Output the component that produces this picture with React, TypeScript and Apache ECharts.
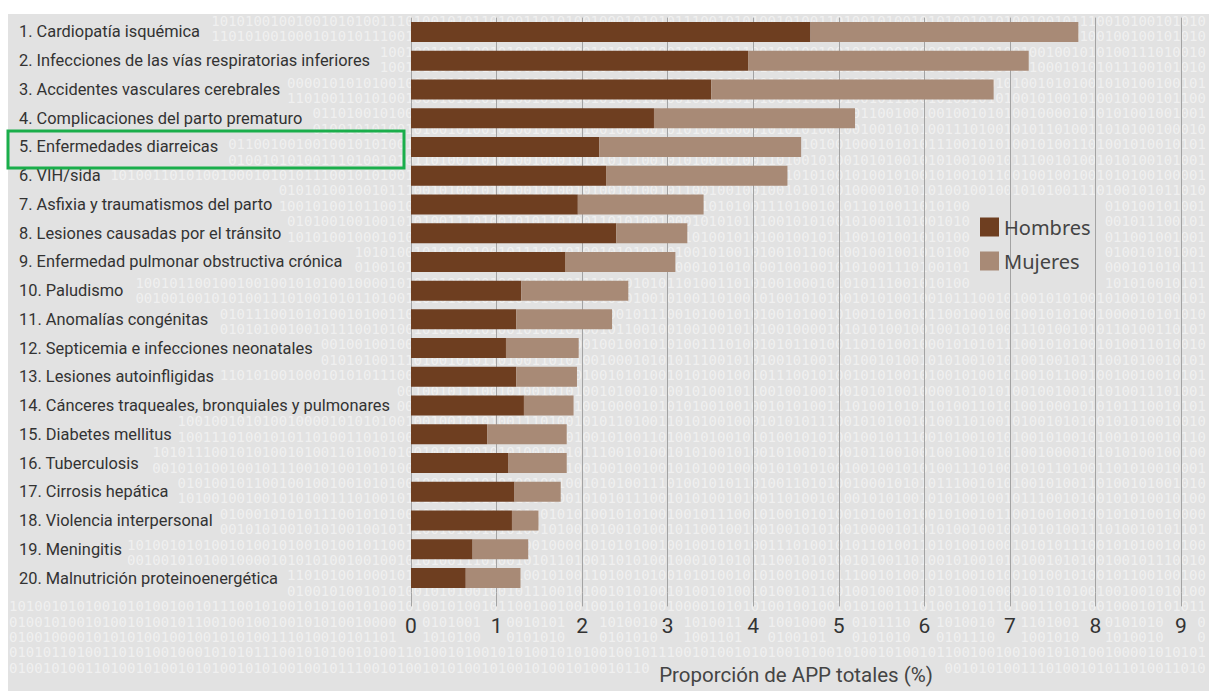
import React, { useEffect, useRef } from "react";
import * as echarts from "echarts";

const categories = [
  "1. Cardiopatía isquémica",
  "2. Infecciones de las vías respiratorias inferiores",
  "3. Accidentes vasculares cerebrales",
  "4. Complicaciones del parto prematuro",
  "5. Enfermedades diarreicas",
  "6. VIH/sida",
  "7. Asfixia y traumatismos del parto",
  "8. Lesiones causadas por el tránsito",
  "9. Enfermedad pulmonar obstructiva crónica",
  "10. Paludismo",
  "11. Anomalías congénitas",
  "12. Septicemia e infecciones neonatales",
  "13. Lesiones autoinfligidas",
  "14. Cánceres traqueales, bronquiales y pulmonares",
  "15. Diabetes mellitus",
  "16. Tuberculosis",
  "17. Cirrosis hepática",
  "18. Violencia interpersonal",
  "19. Meningitis",
  "20. Malnutrición proteinoenergética",
];

const hombres = [4.67, 3.94, 3.51, 2.84, 2.2, 2.28, 1.95, 2.4, 1.8, 1.29, 1.23, 1.11, 1.23, 1.32, 0.89, 1.14, 1.21, 1.18, 0.72, 0.64];
const mujeres = [3.13, 3.28, 3.3, 2.35, 2.36, 2.12, 1.47, 0.83, 1.29, 1.25, 1.12, 0.85, 0.71, 0.58, 0.93, 0.68, 0.54, 0.31, 0.65, 0.64];

const seriesNames = ["Hombres", "Mujeres"];
const xTicks = { min: 0, max: 9, interval: 1 };
const axisTitle = "Proporción de APP totales (%)";

const binarySeed =
  "0100100100101010010000101010100100100101010011101001010110100110101001000101010111001010100101001101001010010101001010100100101110010100101010010100101001010010110";

const FONT = "Roboto, 'Liberation Sans', sans-serif";

export default function App() {
  const ref = useRef<HTMLDivElement>(null);
  useEffect(() => {
    document.body.style.margin = "0";
    const chart = echarts.init(ref.current!, null, { renderer: "svg" });
    const W = 1209;
    const H = 691;

    const gridLeft = 411;
    const gridRight = 28;
    const gridTop = 17.6;
    const gridBottom = 98.6;
    const plotW = W - gridLeft - gridRight;
    const band = (H - gridTop - gridBottom) / categories.length;

    // measure label widths to keep the decorative binary pattern clear of real texts
    const cv = document.createElement("canvas");
    const ctx = cv.getContext("2d")!;
    const measure = (t: string, f: string) => {
      ctx.font = f;
      return ctx.measureText(t).width;
    };
    const boxes: { x0: number; x1: number; y0: number; y1: number }[] = [];
    categories.forEach((c, i) => {
      const cy = gridTop + (i + 0.5) * band;
      boxes.push({ x0: 15, x1: 19 + measure(c, "16.4px Roboto") + 5, y0: cy - 10, y1: cy + 10 });
    });
    const nTicks = (xTicks.max - xTicks.min) / xTicks.interval;
    for (let k = 0; k <= nTicks; k++) {
      const cx = gridLeft + (k / nTicks) * plotW;
      boxes.push({ x0: cx - 9, x1: cx + 9, y0: 615, y1: 640 });
    }
    const tw = measure(axisTitle, "20.5px Roboto");
    const tcx = gridLeft + plotW / 2;
    boxes.push({ x0: tcx - tw / 2 - 6, x1: tcx + tw / 2 + 6, y0: 662, y1: 689 });
    boxes.push({ x0: 972, x1: 1102, y0: 208, y1: 284 });

    const bgRows: any[] = [];
    const rowH = 15.4;
    const charW = 0.602 * 14;
    const nChars = Math.floor((W - 10) / charW);
    const tripled = binarySeed + binarySeed + binarySeed;
    for (let i = 0; 14 + (i + 1) * rowH <= H; i++) {
      const off = (i * 37) % binarySeed.length;
      const s = tripled.slice(off, off + nChars);
      const ry0 = 14 + i * rowH;
      const ry1 = ry0 + 16;
      const blocked = boxes
        .filter((b) => b.y0 < ry1 - 3 && b.y1 > ry0 + 3)
        .sort((a, b) => a.x0 - b.x0);
      const segs: [number, number][] = [];
      let cur = 9;
      for (const b of blocked) {
        if (b.x0 > cur) segs.push([cur, b.x0]);
        cur = Math.max(cur, b.x1);
      }
      if (cur < 9 + nChars * charW) segs.push([cur, 9 + nChars * charW]);
      for (const [a, b] of segs) {
        const c0 = Math.ceil((a - 9) / charW);
        const c1 = Math.floor((b - 9) / charW);
        if (c1 - c0 < 1) continue;
        bgRows.push({
          type: "text",
          x: 9 + c0 * charW,
          y: ry0,
          silent: true,
          z: -99,
          style: {
            text: s.slice(c0, c1),
            fill: "rgba(255,255,255,0.5)",
            font: "14px 'DejaVu Sans Mono', monospace",
            textVerticalAlign: "top",
          },
        });
      }
    }
    chart.setOption({
      animation: false,
      backgroundColor: "#ffffff",
      graphic: [
        {
          type: "group",
          silent: true,
          z: -100,
          children: [
            { type: "rect", z: -100, shape: { x: 8, y: 14, width: W - 8, height: H - 14 }, style: { fill: "#e2e2e2" } },
            { type: "group", z: -99, children: bgRows },
          ],
        },
        {
          type: "rect",
          z: 100,
          silent: true,
          shape: { x: 8, y: 131, width: 396, height: 37 },
          style: { fill: "none", stroke: "#1aae4b", lineWidth: 3 },
        },
      ],
      legend: {
        data: seriesNames,
        orient: "vertical",
        left: 975,
        top: 212,
        itemWidth: 19,
        itemHeight: 19,
        itemGap: 14,
        icon: "rect",
        textStyle: { fontSize: 20, fontFamily: "'Noto Sans', sans-serif", color: "#444" },
      },
      grid: { left: gridLeft, right: gridRight, top: gridTop, bottom: gridBottom, containLabel: false },
      xAxis: {
        type: "value",
        min: xTicks.min,
        max: xTicks.max,
        interval: xTicks.interval,
        axisLine: { show: false },
        axisTick: { show: true, length: 14, lineStyle: { color: "#a3a3a3", width: 1 } },
        splitLine: { show: true, lineStyle: { color: "#a3a3a3", width: 1 } },
        axisLabel: {
          margin: 23,
          fontSize: 21,
          color: "#333",
          fontFamily: FONT,
        },
        name: axisTitle,
        nameLocation: "middle",
        nameGap: 72,
        nameTextStyle: {
          fontSize: 20.5,
          color: "#444",
          fontFamily: FONT,
        },
      },
      yAxis: {
        type: "category",
        data: categories,
        inverse: true,
        axisLine: { show: false },
        axisTick: { show: false },
        splitLine: { show: false },
        axisLabel: {
          align: "left",
          margin: 392,
          fontSize: 16.4,
          color: "#333",
          fontFamily: FONT,
        },
      },
      series: [
        {
          name: seriesNames[0],
          type: "bar",
          stack: "total",
          barWidth: 20,
          data: hombres,
          itemStyle: { color: "#6e3e20" },
        },
        {
          name: seriesNames[1],
          type: "bar",
          stack: "total",
          barWidth: 20,
          data: mujeres,
          itemStyle: { color: "#a88a76" },
        },
      ],
    });
    return () => chart.dispose();
  }, []);
  return <div ref={ref} style={{ width: 1209, height: 691 }} />;
}
